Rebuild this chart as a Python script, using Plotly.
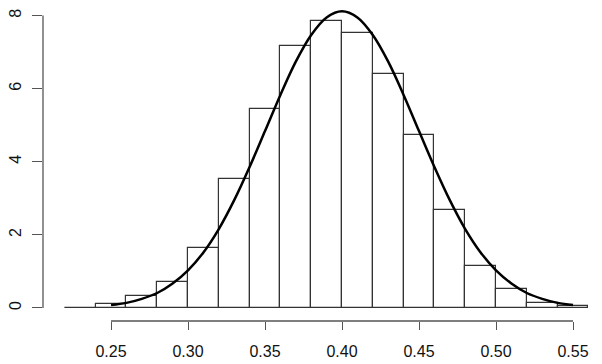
import plotly.graph_objects as go

# Histogram bins (left edges) and densities
bin_left = [0.22, 0.24, 0.26, 0.28, 0.30, 0.32, 0.34, 0.36, 0.38, 0.40,
            0.42, 0.44, 0.46, 0.48, 0.50, 0.52, 0.54]
bin_width = 0.02
density = [0.01, 0.10, 0.33, 0.70, 1.65, 3.52, 5.44, 7.18, 7.86, 7.52,
           6.40, 4.72, 2.68, 1.15, 0.51, 0.13, 0.06]

# Fitted density curve
curve_x = [0.25, 0.26, 0.27, 0.28, 0.29, 0.30, 0.31, 0.32, 0.33, 0.34, 0.35,
           0.36, 0.37, 0.38, 0.39, 0.40, 0.41, 0.42, 0.43, 0.44, 0.45, 0.46,
           0.47, 0.48, 0.49, 0.50, 0.51, 0.52, 0.53, 0.54, 0.55]
curve_y = [0.08, 0.14, 0.25, 0.41, 0.67, 1.03, 1.52, 2.16, 2.95, 3.86, 4.84,
           5.83, 6.74, 7.47, 7.95, 8.12, 7.95, 7.47, 6.74, 5.83, 4.84, 3.86,
           2.95, 2.16, 1.52, 1.03, 0.67, 0.41, 0.25, 0.14, 0.08]

x_ticks = [0.25, 0.30, 0.35, 0.40, 0.45, 0.50, 0.55]
x_tick_text = ["0.25", "0.30", "0.35", "0.40", "0.45", "0.50", "0.55"]
y_ticks = [0, 2, 4, 6, 8]

axis_col = "#555555"
text_col = "#111111"

centers = [b + bin_width / 2 for b in bin_left]

fig = go.Figure()
fig.add_trace(go.Bar(
    x=centers, y=density, width=[bin_width] * len(density),
    marker=dict(color="white", line=dict(color="#333333", width=1.2)),
    hoverinfo="skip", showlegend=False,
))
fig.add_trace(go.Scatter(
    x=curve_x, y=curve_y, mode="lines",
    line=dict(color="black", width=2.5, shape="spline"),
    hoverinfo="skip", showlegend=False,
))

# R-style axis lines spanning only the tick range
fig.add_shape(type="line", xref="x", yref="paper",
              x0=x_ticks[0], x1=x_ticks[-1], y0=0, y1=0,
              line=dict(color=axis_col, width=1.3))
fig.add_shape(type="line", xref="paper", yref="y",
              x0=0, x1=0, y0=y_ticks[0], y1=y_ticks[-1],
              line=dict(color=axis_col, width=1.3))

fig.update_layout(
    width=602, height=364,
    margin=dict(l=43, r=0, t=0, b=43),
    plot_bgcolor="white", paper_bgcolor="white",
    bargap=0,
    font=dict(family="Liberation Sans, Arial, sans-serif", size=16, color=text_col),
    xaxis=dict(
        range=[0.20584, 0.56883], tickvals=x_ticks, ticktext=x_tick_text,
        ticks="outside", ticklen=8, tickwidth=1.3, tickcolor=axis_col,
        showgrid=False, zeroline=False, showline=False,
        ticklabelstandoff=8,
    ),
    yaxis=dict(
        range=[-0.356, 8.427], tickvals=y_ticks,
        ticks="outside", ticklen=10, tickwidth=1.3, tickcolor=axis_col,
        tickangle=-90,
        showgrid=False, zeroline=False, showline=False,
        ticklabelstandoff=5,
    ),
)

fig.write_html("out.html")
